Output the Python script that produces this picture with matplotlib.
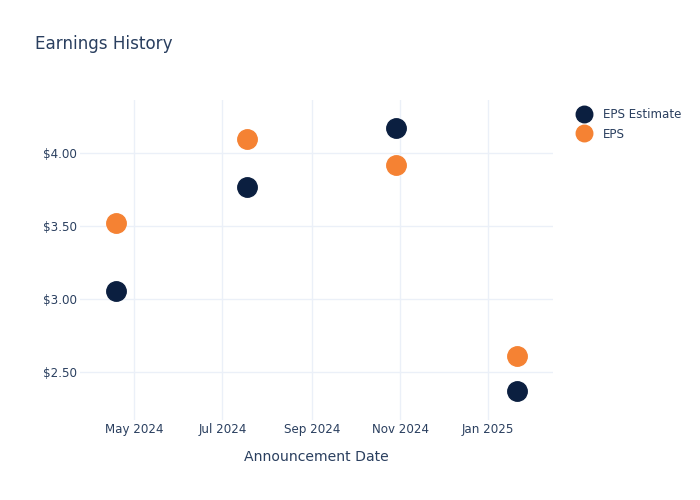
import matplotlib
matplotlib.use("Agg")
import matplotlib.pyplot as plt
import matplotlib.dates as mdates
import numpy as np
from datetime import datetime

# data
dates = ["2024-04-18", "2024-07-18", "2024-10-29", "2025-01-21"]
eps_estimate = [3.06, 3.77, 4.17, 2.37]
eps_actual = [3.52, 4.10, 3.92, 2.61]
series_names = ["EPS Estimate", "EPS"]

navy = "#0b1f40"
orange = "#f58233"
txt = "#2a3f5f"
grid = "#ebf0f8"

plt.rcParams["font.family"] = ["DejaVu Sans"]

x = [datetime.strptime(d, "%Y-%m-%d") for d in dates]

fig = plt.figure(figsize=(7, 5), dpi=100)
ax = fig.add_axes([80 / 700, 80 / 500, 473 / 700, 320 / 500])

ax.plot(x, eps_estimate, "o", color=navy, markersize=14, label=series_names[0], zorder=3)
ax.plot(x, eps_actual, "o", color=orange, markersize=14, label=series_names[1], zorder=3)

ax.set_xlim(mdates.date2num(datetime(2024, 3, 24, 10)), mdates.date2num(datetime(2025, 2, 14, 19)))
ax.set_ylim(2.173, 4.365)

ax.xaxis.set_major_locator(mdates.MonthLocator(bymonth=[1, 3, 5, 7, 9, 11]))
ax.xaxis.set_major_formatter(mdates.DateFormatter("%b %Y"))
ax.set_yticks([2.5, 3.0, 3.5, 4.0])
ax.yaxis.set_major_formatter(plt.FuncFormatter(lambda v, p: "${:.2f}".format(v)))

ax.grid(True, color=grid, linewidth=1, zorder=0)
for s in ax.spines.values():
    s.set_visible(False)
ax.tick_params(length=0, colors=txt, labelsize=8.6)
ax.tick_params(axis="y", pad=2)
ax.tick_params(axis="x", pad=2)

ax.set_xlabel("Announcement Date", fontsize=10.1, color=txt, labelpad=10.5)
fig.text(35 / 700, 1 - 44 / 500, "Earnings History", fontsize=12.1, color=txt, va="center", ha="left")

leg = ax.legend(loc="upper left", bbox_to_anchor=(1.043, 0.99), frameon=False,
                fontsize=8.6, labelcolor=txt, handletextpad=1.1, labelspacing=0.55,
                handlelength=1.0, borderaxespad=0, markerscale=0.85)

fig.savefig("out.png", dpi=100, facecolor="white")
